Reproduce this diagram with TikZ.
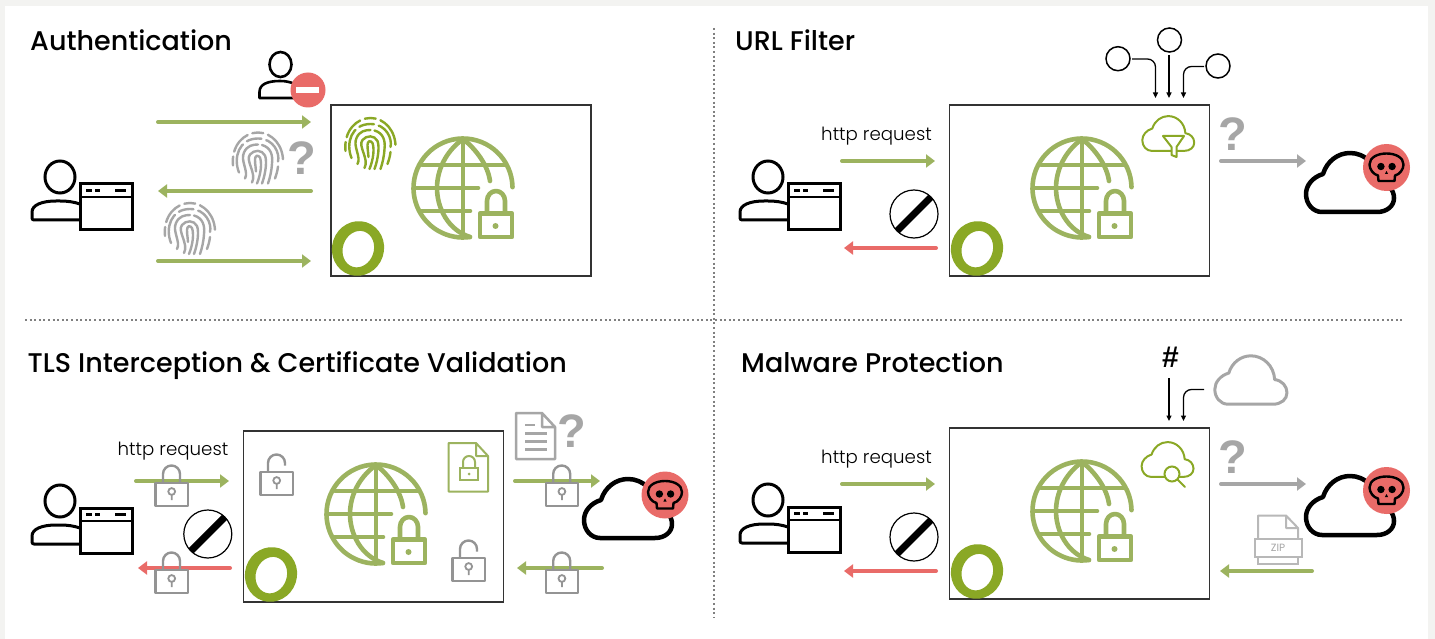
\documentclass[tikz,border=0pt]{standalone}
\usepackage{fontspec}
\usetikzlibrary{arrows.meta}
\setmainfont{Poppins}
\newfontfamily\titlef{Poppins Medium}
\newfontfamily\reqf{Poppins Light}
\newfontfamily\qf{Liberation Sans}
\definecolor{pagebg}{HTML}{F3F3F1}
\definecolor{gm}{HTML}{9CB35F}
\definecolor{gd}{HTML}{8AA825}
\definecolor{gr}{HTML}{A6A6A6}
\definecolor{lk}{HTML}{949494}
\definecolor{rd}{HTML}{E96B68}
\definecolor{bx}{HTML}{333333}
\tikzset{
 titlen/.style={anchor=base west,inner sep=0pt,font=\titlef\fontsize{27}{30}\selectfont,text=black},
 reqn/.style={inner sep=0pt,font=\reqf\fontsize{18.2}{22}\selectfont,text=black},
 qn/.style={inner sep=0pt,font=\qf\bfseries\fontsize{47}{50}\selectfont,text=gr},
 boxn/.style={draw=bx,line width=1.4pt,minimum width=260pt,minimum height=171pt,inner sep=0pt,outer sep=0pt},
 arr/.style={line width=4pt,line cap=round,-{Triangle[length=9pt,width=13pt]},shorten >=0pt},
 thin arr/.style={line width=1.3pt,-{Triangle[length=5.5pt,width=5pt]},rounded corners=8pt,black},
 divider/.style={draw=black!50,line width=2pt,dash pattern=on 2pt off 2.6pt},
 pics/person/.style={code={
  \draw[black,line width=3pt] (60,177) ellipse[x radius=15,y radius=16];
  \draw[black,line width=3pt,line join=round,rounded corners=2pt] (80,220) -- (32,220) -- (32,214) .. controls (32,205) and (42,201) .. (58,201) .. controls (68,201) and (74,202) .. (80,204);
  \draw[black,line width=3pt,fill=white,line join=miter] (80,184) rectangle (132,229.5);
  \draw[black,line width=2pt] (80,197) -- (132,197);
  \draw[black,line width=2.4pt] (86,190.5) -- (92,190.5) (95,190.5) -- (100,190.5) (115,190.5) -- (126,190.5);
 }},
 pics/ring/.style={code={
  \begin{scope}[rotate=-18]
  \fill[gd,even odd rule] (0,0) ellipse[x radius=26,y radius=27.5] (0.5,0.5) ellipse[x radius=15.5,y radius=18.5];
  \end{scope}
 }},
 pics/globe/.style={code={
  \begin{scope}[gm,line width=4.6pt,line cap=round,line join=round]
  \draw (-1:49.5) arc[start angle=-1,end angle=-278,radius=49.5];
  \draw (0,-49) -- (0,49);
  \draw (0,-49) .. controls (-18,-36) and (-26,-17) .. (-26,0) .. controls (-26,20) and (-15,42) .. (7,49);
  \draw (0,-49) .. controls (14,-38) and (25,-22) .. (27,-7);
  \draw (-41,-23) -- (41,-23);
  \draw (-49,0) -- (15,0);
  \draw (-42,23) -- (7,23);
  \draw[fill=white] (17,25.5) rectangle (49,49);
  \draw (24,25) -- (24,13) arc[start angle=180,end angle=360,x radius=9,y radius=10] -- (42,25);
  \fill (32.5,38) circle[radius=3];
  \end{scope}
 }},
 pics/fprint/.style={code={
  \begin{scope}[#1,line width=2.4pt,line cap=round]
  \draw[dash pattern=on 9pt off 5pt on 22pt off 5pt on 11pt off 5pt on 30pt off 5pt on 100pt] (-25,8) .. controls (-27,-12) and (-14,-25) .. (0,-25) .. controls (14,-25) and (26,-12) .. (25,6);
  \draw[dash pattern=on 30pt off 5pt on 15pt off 5pt on 100pt] (-19,15) .. controls (-25,0) and (-19,-19) .. (0,-19) .. controls (16,-19) and (22,-4) .. (20,4) (20,9) .. controls (19.5,14) and (18,18) .. (17,21);
  \draw (-13,21) .. controls (-9,14) and (-18,3) .. (-14,-5) .. controls (-11,-12) and (-5,-13) .. (0,-13);
  \draw (4,-12.5) .. controls (13,-10) and (15,-2) .. (14,6) .. controls (13.5,14) and (12,20) .. (10,26);
  \draw (-6,25) .. controls (-1,16) and (-13,3) .. (-8,-3) .. controls (-4,-8) and (4,-8) .. (7,-2) .. controls (9,3) and (8,15) .. (4,26);
  \draw (-1,26) .. controls (3,16) and (4,6) .. (2,0) .. controls (0,-3) and (-3,-2) .. (-3,2) .. controls (-3,8) and (-2,10) .. (-2,14);
  \end{scope}
 }},
 pics/cloudi/.style={code={
  \draw[#1,line join=round] (17,60) -- (72,60) .. controls (82,60) and (89,54) .. (89,46) .. controls (89,38) and (83,31) .. (74,30) .. controls (73,13) and (60,1) .. (45,1) .. controls (33,1) and (22,9) .. (18,22) .. controls (8,25) and (1,33) .. (1,42) .. controls (1,52) and (8,60) .. (17,60) -- cycle;
 }},
 pics/skull/.style={code={
  \fill[rd] (0,0) circle[radius=23.5];
  \draw[black,line width=2.4pt,line join=round] (-8,13.5) -- (8,13.5) -- (8.5,8) .. controls (13,7) and (17,2) .. (17,-3) .. controls (17,-10) and (9,-14) .. (0,-14) .. controls (-9,-14) and (-17,-10) .. (-17,-3) .. controls (-17,2) and (-13,7) .. (-8.5,8) -- cycle;
  \fill[black] (-5.6,-1) circle[radius=3.7] (5.6,-1) circle[radius=3.7];
  \fill[black] (0,3.5) -- (1.6,6.5) -- (-1.6,6.5) -- cycle;
 }},
 pics/noentry/.style={code={
  \draw[black,line width=7pt] (-17,17) -- (17,-17);
  \draw[black,line width=1.2pt] (0,0) circle[radius=24];
 }},
 pics/lockc/.style={code={
  \draw[lk,line width=2.4pt,line join=round] (0,0) rectangle (32.5,23);
  \draw[lk,line width=2.4pt] (7.5,0) -- (7.5,-9) arc[start angle=180,end angle=360,radius=8.5] -- (24.5,0);
  \draw[lk,line width=1.8pt] (16.2,8.5) circle[radius=3.4] (16.2,12) -- (16.2,17);
 }},
 pics/locko/.style={code={
  \draw[lk,line width=2.4pt,line join=round] (0,0) rectangle (32.5,23);
  \draw[lk,line width=2.4pt] (7.5,0) -- (7.5,-9) arc[start angle=180,end angle=360,radius=8.5] -- (24.5,-6.5);
  \draw[lk,line width=1.8pt] (16.2,8.5) circle[radius=3.4] (16.2,12) -- (16.2,17);
 }},
}
\begin{document}
\begin{tikzpicture}[x=1pt,y=-1pt]
\useasboundingbox (0,0) rectangle (1435,639);
\fill[pagebg] (0,0) rectangle (1435,639);
\fill[white] (5,6) rectangle (1428,639);

% dividers
\coordinate (vt) at (714,28); \coordinate (vb) at (714,618);
\coordinate (hl) at (25,320); \coordinate (hr) at (1403,320);
\draw[divider] (vt) -- (vb);
\draw[divider] (hl) -- (hr);

% titles
\node[titlen] (t1) at (30,51) {Authentication};
\node[titlen] (t2) at (735,51) {URL Filter};
\node[titlen] (t3) at (27.5,372.5) {TLS Interception \& Certificate Validation};
\node[titlen] (t4) at (741,372.5) {Malware Protection};

% ---------- panel 1
\node[boxn] (box1) at (461,190.5) {};
\pic at (463,188) {globe};
\pic at (358,248.5) {ring};
\pic at (0,0) {person};
\pic at (370.5,143) {fprint=gd};
\pic at (258,157.5) {fprint=gr};
\pic at (190,228) {fprint=gr};
\node[qn] (q1) at (302,158) {?};
\draw[black,line width=2.6pt] (280.5,64.5) ellipse[x radius=11,y radius=12.5];
\draw[black,line width=2.6pt,line join=round] (295,98) -- (259.5,98) -- (259.5,92) .. controls (259.5,84) and (268,81) .. (280,81) .. controls (286,81) and (290,82) .. (295,84);
\fill[rd] (308,90) circle[radius=17.5];
\fill[white] (296,87.5) rectangle (319,93.5);
\coordinate (a1s) at (158,122); \coordinate (a1e) at (311,122);
\coordinate (a2s) at (311,191); \coordinate (a2e) at (158,191);
\coordinate (a3s) at (158,261); \coordinate (a3e) at (311,261);
\draw[arr,gm] (a1s) -- (a1e);
\draw[arr,gm] (a2s) -- (a2e);
\draw[arr,gm] (a3s) -- (a3e);

% ---------- panel 2
\node[boxn] (box2) at (1079.5,190.5) {};
\pic at (1082,188) {globe};
\pic at (977,248.5) {ring};
\pic at (708,0) {person};
\node[reqn] (r2) at (876.5,136.5) {http request};
\coordinate (b1s) at (842,161); \coordinate (b1e) at (935,161);
\coordinate (b2s) at (936,248); \coordinate (b2e) at (844,248);
\coordinate (b3s) at (1221,161); \coordinate (b3e) at (1306,161);
\draw[arr,gm] (b1s) -- (b1e);
\draw[arr,rd] (b2s) -- (b2e);
\draw[arr,gr] (b3s) -- (b3e);
\pic at (914,214) {noentry};
\node[qn] (q2) at (1232.5,134) {?};
\pic at (1305,152) {cloudi={black,line width=4.5pt}};
\pic at (1386.5,167.5) {skull};
\draw[black,line width=1.5pt] (1118,58.7) ellipse[x radius=12,y radius=12];
\draw[black,line width=1.5pt] (1169.5,40) ellipse[x radius=12,y radius=12];
\draw[black,line width=1.5pt] (1218,66) ellipse[x radius=12,y radius=12];
\coordinate (c1s) at (1132,59); \coordinate (c1m) at (1155.5,59); \coordinate (c1e) at (1155.5,98);
\coordinate (c2s) at (1169,55); \coordinate (c2e) at (1169,98);
\coordinate (c3s) at (1204,66.5); \coordinate (c3m) at (1183.5,66.5); \coordinate (c3e) at (1183.5,98);
\draw[thin arr] (c1s) -- (c1m) -- (c1e);
\draw[thin arr] (c2s) -- (c2e);
\draw[thin arr] (c3s) -- (c3m) -- (c3e);
\pic[scale=0.59] at (1141.7,115.5) {cloudi={gd,line width=2pt}};
\draw[gd,line width=2pt,fill=white,line join=round] (1163,136) -- (1184,136) -- (1176.5,147) -- (1176.5,157) -- (1171.5,155) -- (1171.5,147) -- cycle;

% ---------- panel 3
\node[boxn] (box3) at (373.5,516.5) {};
\pic at (376,514) {globe};
\pic at (271,574.5) {ring};
\pic at (0,324) {person};
\node[reqn] (r3) at (173,451) {http request};
\coordinate (d1s) at (136,481); \coordinate (d1e) at (229,481);
\coordinate (d2s) at (230,568); \coordinate (d2e) at (138,568);
\coordinate (d3s) at (515,481); \coordinate (d3e) at (600,481);
\coordinate (d4s) at (602,568); \coordinate (d4e) at (517,568);
\draw[arr,gm] (d1s) -- (d1e);
\draw[arr,rd] (d2s) -- (d2e);
\draw[arr,gm] (d3s) -- (d3e);
\draw[arr,gm] (d4s) -- (d4e);
\pic at (155.5,483) {lockc};
\pic at (155.5,570) {lockc};
\pic at (545.7,483) {lockc};
\pic at (545.7,570) {lockc};
\pic at (260.5,472) {locko};
\pic at (452.5,558) {locko};
\pic at (207.8,534) {noentry};
\draw[gm,line width=2pt,line join=round] (448.5,443) -- (476,443) -- (488,456) -- (488,491.5) -- (448.5,491.5) -- cycle (476,443) -- (476,456) -- (488,456);
\draw[gm,line width=2pt] (460,468) rectangle (478,479.5);
\draw[gm,line width=2pt] (463,468) -- (463,462) arc[start angle=180,end angle=360,x radius=6,y radius=6] -- (475,468);
\fill[gm] (469,474) circle[radius=1.5];
\draw[gr,line width=2.5pt,line join=round] (516,413) -- (542,413) -- (555,427) -- (555,459) -- (516,459) -- cycle (542,413) -- (542,427) -- (555,427);
\draw[gr,line width=2.4pt] (525,425) -- (535,425) (525,433.5) -- (546.5,433.5) (525,441.5) -- (546.5,441.5) (525,449.5) -- (546.5,449.5);
\node[qn] (q3) at (571.5,431) {?};
\pic at (583,478) {cloudi={black,line width=4.5pt}};
\pic at (665,495) {skull};

% ---------- panel 4
\node[boxn] (box4) at (1079.5,513.5) {};
\pic at (1082,511) {globe};
\pic at (977,571.5) {ring};
\pic at (708,323) {person};
\node[reqn] (r4) at (876.5,459.5) {http request};
\coordinate (e1s) at (842,484); \coordinate (e1e) at (935,484);
\coordinate (e2s) at (936,571); \coordinate (e2e) at (844,571);
\coordinate (e3s) at (1221,484); \coordinate (e3e) at (1306,484);
\coordinate (e4s) at (1312,571); \coordinate (e4e) at (1220,571);
\draw[arr,gm] (e1s) -- (e1e);
\draw[arr,rd] (e2s) -- (e2e);
\draw[arr,gr] (e3s) -- (e3e);
\draw[arr,gm] (e4s) -- (e4e);
\pic at (914,537) {noentry};
\node[qn] (q4) at (1232.5,457) {?};
\pic at (1305,475) {cloudi={black,line width=4.5pt}};
\pic at (1386.5,490.5) {skull};
\node[inner sep=0pt,font=\qf\bfseries\fontsize{30}{32}\selectfont] (hash) at (1170.5,357) {\#};
\pic[scale=0.82] at (1214,355) {cloudi={gr,line width=3pt}};
\coordinate (f1s) at (1169,378); \coordinate (f1e) at (1169,421);
\coordinate (f2s) at (1204,389.5); \coordinate (f2m) at (1183.5,389.5); \coordinate (f2e) at (1183.5,421);
\draw[thin arr] (f1s) -- (f1e);
\draw[thin arr] (f2s) -- (f2m) -- (f2e);
\pic[scale=0.59] at (1141,441.5) {cloudi={gd,line width=2pt}};
\draw[gd,line width=2pt,fill=white] (1172,474) circle[radius=7.5];
\draw[gd,line width=2pt,line cap=round] (1177.5,479.5) -- (1185,487);
% zip
\draw[gr!80,line width=2pt,line join=round] (1258,539) -- (1258,515.5) -- (1286,515.5) -- (1298,528) -- (1298,539) (1286,515.5) -- (1286,528) -- (1298,528);
\draw[gr!80,line width=2pt] (1254.5,539) rectangle (1302,556.5);
\draw[gr!80,line width=2pt] (1258,556.5) -- (1258,564) -- (1298,564) -- (1298,556.5);
\node[inner sep=0pt,text=gr,font=\fontsize{10.5}{11}\selectfont] (zip) at (1278,548) {ZIP};
\end{tikzpicture}
\end{document}
